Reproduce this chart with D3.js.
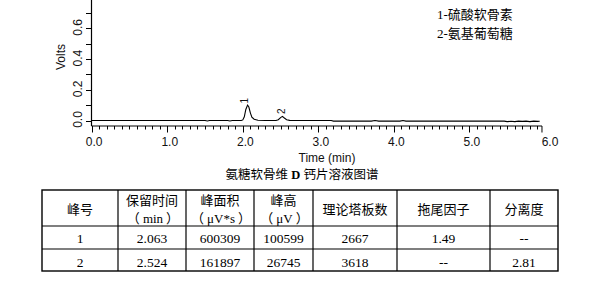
<!DOCTYPE html>
<html>
<head>
<meta charset="utf-8">
<script src="https://cdn.jsdelivr.net/npm/d3@7"></script>
<style>
html,body{margin:0;padding:0;background:#fff;}
svg{display:block;}
</style>
</head>
<body>
<svg id="chart" width="600" height="289"></svg>
<script>
// ---- Data ----
const times = [0.00, 0.30, 0.60, 0.90, 1.20, 1.50, 1.53, 1.56, 1.80, 1.83, 1.86, 1.98, 2.00, 2.02, 2.04, 2.063, 2.08, 2.10, 2.12, 2.15, 2.20, 2.30, 2.44, 2.47, 2.50, 2.524, 2.55, 2.58, 2.62, 2.70, 3.00, 3.17, 3.20, 3.70, 3.75, 3.80, 4.08, 4.12, 4.16, 4.60, 5.00, 5.46, 5.50, 5.55, 5.60, 5.65, 5.70, 5.75, 5.80, 5.85, 5.90, 5.93];
const volts = [0.000, 0.000, 0.000, 0.000, 0.000, 0.000, -0.003, 0.000, 0.000, -0.003, 0.000, 0.000, 0.004, 0.024, 0.072, 0.1006, 0.088, 0.050, 0.022, 0.008, 0.002, 0.000, 0.000, 0.005, 0.019, 0.0267, 0.016, 0.005, 0.001, 0.000, 0.000, 0.000, -0.004, -0.004, 0.000, -0.004, -0.004, 0.000, -0.004, -0.004, -0.004, -0.004, -0.007, -0.005, -0.007, -0.004, -0.006, -0.004, -0.007, -0.004, -0.006, -0.005];
const xTicks = [0, 1, 2, 3, 4, 5, 6];
const xTickLabels = ["0.0", "1.0", "2.0", "3.0", "4.0", "5.0", "6.0"];
const yTicks = [0, 0.2, 0.4, 0.6];
const yTickLabels = ["0.0", "0.2", "0.4", "0.6"];
const yMinorTicks = [0.1, 0.3, 0.5, 0.7];
const peakLabels = ["1", "2"];
const peakTimes = [2.063, 2.524];
const peakHeights = [0.1006, 0.0267];
const legendItems = ["1-硫酸软骨素", "2-氨基葡萄糖"];
const xTitle = "Time (min)";
const yTitle = "Volts";
const chartTitle = "氨糖软骨维 D 钙片溶液图谱";
const tableHeaders = [["峰号"], ["保留时间", "min"], ["峰面积", "μV*s"], ["峰高", "μV"], ["理论塔板数"], ["拖尾因子"], ["分离度"]];
const tableRow1 = ["1", "2.063", "600309", "100599", "2667", "1.49", "--"];
const tableRow2 = ["2", "2.524", "161897", "26745", "3618", "--", "2.81"];

// ---- Chart ----
const svg = d3.select("#chart");
const sans = "'Liberation Sans', Arial, sans-serif";
const cjk = "'Noto Sans CJK SC', sans-serif";
const serifCjk = "'Liberation Serif', 'Noto Sans CJK SC', serif";

const x = d3.scaleLinear().domain([0, 6]).range([91.7, 545]);
const y = d3.scaleLinear().domain([0, 0.785]).range([120.5, 0]);
const axisY = 126;
const axisX = 91.5;

// axis lines
svg.append("line").attr("x1", axisX).attr("x2", axisX).attr("y1", 0).attr("y2", axisY)
  .attr("stroke", "#000").attr("stroke-width", 1.2);
svg.append("line").attr("x1", axisX).attr("x2", x(5.96)).attr("y1", axisY).attr("y2", axisY)
  .attr("stroke", "#000").attr("stroke-width", 1.2);

// x minor ticks
const minor = d3.range(0, 60).map(i => i / 10).filter(v => !xTicks.includes(Math.round(v * 10) / 10));
svg.append("g").selectAll("line").data(minor).join("line")
  .attr("x1", d => Math.round(x(d)) + 0.5).attr("x2", d => Math.round(x(d)) + 0.5)
  .attr("y1", axisY).attr("y2", axisY + 3.5).attr("stroke", "#000").attr("stroke-width", 1);
svg.append("g").selectAll("line").data(xTicks.slice(0, 6)).join("line")
  .attr("x1", d => Math.round(x(d)) + 0.5).attr("x2", d => Math.round(x(d)) + 0.5)
  .attr("y1", axisY).attr("y2", axisY + 6.5).attr("stroke", "#000").attr("stroke-width", 1);
svg.append("line").attr("x1", x(5.96)).attr("x2", x(5.96)).attr("y1", axisY).attr("y2", axisY + 6.5)
  .attr("stroke", "#000").attr("stroke-width", 1);

svg.append("g").selectAll("text").data(xTicks).join("text")
  .attr("x", (d, i) => x(d) + (i === 6 ? 5 : 2.5)).attr("y", 146)
  .attr("text-anchor", "middle").attr("font-family", sans).attr("font-size", 12).attr("fill", "#111")
  .text((d, i) => xTickLabels[i]);

// y ticks
svg.append("g").selectAll("line").data(yTicks.concat(yMinorTicks)).join("line")
  .attr("x1", axisX - 5.5).attr("x2", axisX)
  .attr("y1", d => Math.round(y(d)) + 0.5).attr("y2", d => Math.round(y(d)) + 0.5)
  .attr("stroke", "#000").attr("stroke-width", 1);
svg.append("g").selectAll("text").data(yTicks).join("text")
  .attr("transform", d => `translate(81.5,${y(d) - 1}) rotate(-90)`)
  .attr("text-anchor", "middle").attr("font-family", sans).attr("font-size", 12).attr("fill", "#111")
  .text((d, i) => yTickLabels[i]);

svg.append("text").attr("transform", "translate(64.5,57) rotate(-90)")
  .attr("text-anchor", "middle").attr("font-family", sans).attr("font-size", 12).attr("fill", "#111")
  .text(yTitle);

svg.append("text").attr("x", 327).attr("y", 161.5).attr("text-anchor", "middle")
  .attr("font-family", sans).attr("font-size", 12).attr("fill", "#111").text(xTitle);

svg.append("text").attr("x", 302).attr("y", 178.5).attr("text-anchor", "middle")
  .attr("font-family", serifCjk).attr("font-size", 12.5).attr("fill", "#000")
  .selectAll("tspan").data(chartTitle.split(/( D )/)).join("tspan")
  .attr("font-weight", d => d === " D " ? "bold" : null)
  .text(d => d);

// chromatogram trace
const pts = times.map((t, i) => [t, volts[i]]);
svg.append("path").datum(pts)
  .attr("d", d3.line().x(d => x(d[0])).y(d => y(d[1])))
  .attr("fill", "none").attr("stroke", "#000").attr("stroke-width", 1.1);

// peak labels
svg.append("g").selectAll("text").data(peakLabels).join("text")
  .attr("transform", (d, i) => `translate(${x(peakTimes[i]) + (i === 0 ? 0.5 : 2.5)},${y(peakHeights[i]) - (i === 0 ? 1.5 : 2.5)}) rotate(-90)`)
  .attr("font-family", sans).attr("font-size", 10).attr("fill", "#111")
  .text(d => d);

// legend
svg.append("g").selectAll("text").data(legendItems).join("text")
  .attr("x", 437).attr("y", (d, i) => 19 + i * 18.5)
  .attr("font-family", serifCjk).attr("font-size", 13).attr("fill", "#000")
  .text(d => d);

// ---- Table ----
const colX = [42, 118, 186, 254, 313, 397, 490, 558];
const rowY = [190, 226, 249, 271];
const tg = svg.append("g");
tg.append("rect").attr("x", colX[0]).attr("y", rowY[0]).attr("width", colX[7] - colX[0]).attr("height", rowY[3] - rowY[0])
  .attr("fill", "none").attr("stroke", "#000").attr("stroke-width", 1.4);
tg.selectAll("line.c").data(colX.slice(1, 7)).join("line")
  .attr("x1", d => d).attr("x2", d => d).attr("y1", rowY[0]).attr("y2", rowY[3])
  .attr("stroke", "#000").attr("stroke-width", 1.2);
tg.selectAll("line.r").data(rowY.slice(1, 3)).join("line")
  .attr("x1", colX[0]).attr("x2", colX[7]).attr("y1", d => d).attr("y2", d => d)
  .attr("stroke", "#000").attr("stroke-width", 1.2);

const centers = colX.slice(0, 7).map((c, i) => (c + colX[i + 1]) / 2);
tableHeaders.forEach((lines, i) => {
  if (lines.length === 1) {
    tg.append("text").attr("x", centers[i]).attr("y", 213.5).attr("text-anchor", "middle")
      .attr("font-family", cjk).attr("font-size", 13).attr("fill", "#000").text(lines[0]);
  } else {
    tg.append("text").attr("x", centers[i]).attr("y", 205).attr("text-anchor", "middle")
      .attr("font-family", cjk).attr("font-size", 13).attr("fill", "#000").text(lines[0]);
    const t2 = tg.append("text").attr("x", centers[i] + 1).attr("y", 222.5).attr("text-anchor", "middle")
      .attr("font-size", 13).attr("fill", "#000");
    t2.append("tspan").attr("font-family", cjk).text("（");
    t2.append("tspan").attr("font-family", serifCjk).attr("dx", 3).text(lines[1]);
    t2.append("tspan").attr("font-family", cjk).attr("dx", 3).text("）");
  }
});
[tableRow1, tableRow2].forEach((row, r) => {
  tg.append("g").selectAll("text").data(row).join("text")
    .attr("x", (d, i) => centers[i]).attr("y", r === 0 ? 243 : 266.5).attr("text-anchor", "middle")
    .attr("font-family", serifCjk).attr("font-size", 13.5).attr("fill", "#000").text(d => d);
});
</script>
</body>
</html>
